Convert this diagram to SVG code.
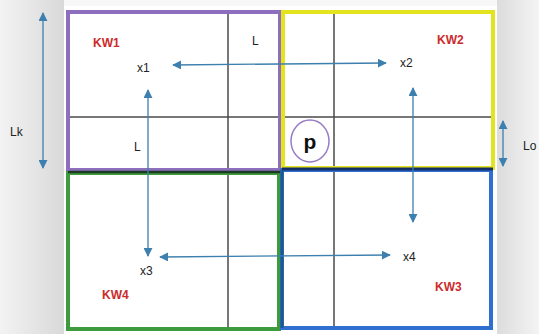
<svg xmlns="http://www.w3.org/2000/svg" width="539" height="334" viewBox="0 0 539 334">
<defs>
<linearGradient id="gl" x1="0" y1="0" x2="1" y2="0">
<stop offset="0" stop-color="#f3f3f3"/><stop offset="1" stop-color="#d9d9d9"/>
</linearGradient>
<linearGradient id="gr" x1="0" y1="0" x2="1" y2="0">
<stop offset="0" stop-color="#dcdcdc"/><stop offset="1" stop-color="#f4f4f4"/>
</linearGradient>
<marker id="ah" viewBox="0 0 10 10" refX="9" refY="5" markerWidth="9" markerHeight="9" markerUnits="userSpaceOnUse" orient="auto-start-reverse">
<path d="M0,0 L10,5 L0,10 Z" fill="#3d7fae"/>
</marker>
<style>
.kw{font-family:"Liberation Sans",Arial,sans-serif;font-size:12px;font-weight:bold;fill:#cc2b2b}
.t{font-family:"Liberation Sans",Arial,sans-serif;font-size:12px;fill:#222}
.grid{stroke:#4a4a4a;stroke-width:1.5;fill:none}
.arr{stroke:#3d7fae;stroke-width:1.3;fill:none;marker-start:url(#ah);marker-end:url(#ah)}
</style>
</defs>
<rect x="0" y="0" width="539" height="334" fill="#f7f7f7"/>
<rect x="0" y="0" width="64" height="334" fill="url(#gl)"/>
<rect x="497" y="0" width="42" height="334" fill="url(#gr)"/>
<rect x="64" y="6" width="433" height="328" fill="#ffffff"/>

<g id="grid">
<line class="grid" x1="228" y1="12" x2="228" y2="329"/>
<line class="grid" x1="334" y1="12" x2="334" y2="328"/>
<line class="grid" x1="68" y1="117" x2="493" y2="117"/>
</g>

<g id="KW1">
<rect x="68" y="12" width="212" height="158" fill="none" stroke="#8d6fbe" stroke-width="4"/>
<text class="kw" x="93" y="47">KW1</text>
</g>
<g id="KW2">
<rect x="283" y="12" width="210" height="156" fill="none" stroke="#e4e41e" stroke-width="4"/>
<text class="kw" x="437" y="44">KW2</text>
</g>
<g id="KW4">
<rect x="68" y="173" width="211" height="156" fill="none" stroke="#3d9b3d" stroke-width="4"/>
<line x1="68" y1="172" x2="280" y2="172" stroke="#1d3b22" stroke-width="2.5"/>
<text class="kw" x="102" y="299">KW4</text>
</g>
<g id="KW3">
<rect x="282" y="170" width="209" height="158" fill="none" stroke="#2f6fd0" stroke-width="4"/>
<line x1="282" y1="169" x2="493" y2="169" stroke="#14306b" stroke-width="3"/>
<line x1="282" y1="170" x2="282" y2="328" stroke="#1d5a8a" stroke-width="3"/>
<text class="kw" x="435" y="291">KW3</text>
</g>

<g id="p">
<ellipse cx="310" cy="141" rx="19" ry="21" fill="none" stroke="#9a7cc4" stroke-width="1.5"/>
<text x="310" y="149" text-anchor="middle" font-family="Liberation Sans,Arial,sans-serif" font-size="21" font-weight="bold" fill="#111">p</text>
</g>

<g id="x1"><text class="t" x="137" y="72">x1</text></g>
<g id="x2"><text class="t" x="400" y="67">x2</text></g>
<g id="x3"><text class="t" x="140" y="275">x3</text></g>
<g id="x4"><text class="t" x="403" y="261">x4</text></g>
<g id="labels">
<text class="t" x="252" y="45">L</text>
<text class="t" x="134" y="151">L</text>
<text class="t" x="10" y="136" font-size="11">Lk</text>
<text class="t" x="523" y="150" font-size="11">Lo</text>
</g>

<g id="connectors">
<line class="arr" x1="173" y1="65" x2="386" y2="63"/>
<line class="arr" x1="148" y1="90" x2="148" y2="256"/>
<line class="arr" x1="413" y1="88" x2="413" y2="222"/>
<line class="arr" x1="160" y1="257" x2="390" y2="255"/>
<line class="arr" x1="43" y1="13" x2="43" y2="168"/>
<line class="arr" x1="503" y1="121" x2="503" y2="166"/>
</g>
</svg>
